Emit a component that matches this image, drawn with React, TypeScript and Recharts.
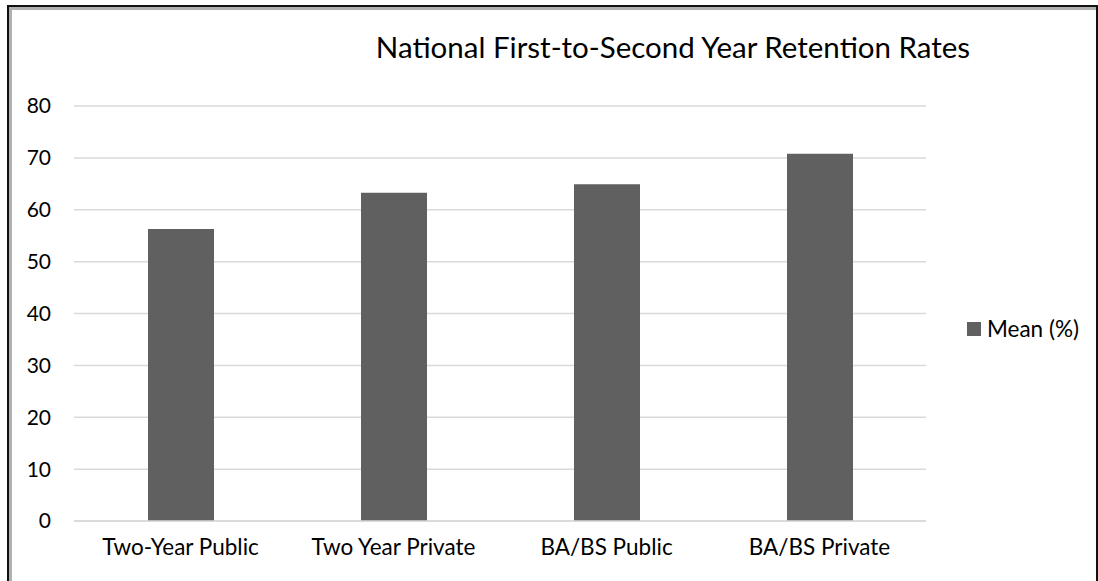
import { BarChart, Bar, XAxis, YAxis, CartesianGrid, Legend } from 'recharts';

const categories = ['Two-Year Public', 'Two Year Private', 'BA/BS Public', 'BA/BS Private'];
const meanValues = [56.3, 63.3, 64.9, 70.8];
const yTicks = [0, 10, 20, 30, 40, 50, 60, 70, 80];

const data = categories.map((name, i) => ({ name, mean: meanValues[i] }));

const FONT = 'Lato, "Open Sans", sans-serif';
const BAR_COLOR = '#606060';
const GRID_COLOR = '#d9d9d9';

function LegendBox() {
  return (
    <div style={{ display: 'flex', alignItems: 'center', fontFamily: FONT, fontSize: 22.5, color: '#000' }}>
      <span style={{ width: 14, height: 14, background: BAR_COLOR, display: 'inline-block', marginRight: 6 }} />
      Mean (%)
    </div>
  );
}

export default function App() {
  return (
    <div style={{ position: 'absolute', left: 0, top: 0, width: 1098, height: 581, background: '#fff', overflow: 'hidden' }}>
      {/* window frame, open at the bottom */}
      <div style={{
        position: 'absolute', left: 7, top: 5, width: 1087, height: 590,
        borderTop: '2px solid #111', borderLeft: '2px solid #111', borderRight: '2px solid #111',
      }}>
        <div style={{ position: 'absolute', left: 0, top: 0, right: 0, bottom: 0, borderTop: '3px solid #b0b0b0', borderLeft: '3px solid #b0b0b0' }} />
      </div>

      <div style={{
        position: 'absolute', left: 0, top: 27, width: 1346, textAlign: 'center',
        fontFamily: FONT, fontSize: 29.5, color: '#000', lineHeight: '40px',
      }}>
        National First-to-Second Year Retention Rates
      </div>

      <div style={{ position: 'absolute', left: 0, top: 0 }}>
        <BarChart width={1098} height={581} data={data} margin={{ top: 106, right: 172, bottom: 0, left: 0 }}>
          <CartesianGrid vertical={false} stroke={GRID_COLOR} strokeWidth={1.5} />
          <XAxis
            dataKey="name"
            height={60}
            tickLine={false}
            tickSize={0}
            tickMargin={18}
            axisLine={{ stroke: GRID_COLOR, strokeWidth: 1.5 }}
            tick={{ fill: '#000', fontSize: 22.5, fontFamily: FONT }}
          />
          <YAxis
            width={74}
            domain={[0, 80]}
            ticks={yTicks}
            axisLine={false}
            tickLine={false}
            tickSize={0}
            tickMargin={23}
            tick={{ fill: '#000', fontSize: 21, fontFamily: FONT }}
          />
          <Legend
            layout="vertical"
            verticalAlign="middle"
            align="center"
            wrapperStyle={{ left: 967, top: 315, width: 'auto' }}
            content={() => <LegendBox />}
          />
          <Bar dataKey="mean" name="Mean (%)" fill={BAR_COLOR} barSize={66} isAnimationActive={false} />
        </BarChart>
      </div>
    </div>
  );
}
